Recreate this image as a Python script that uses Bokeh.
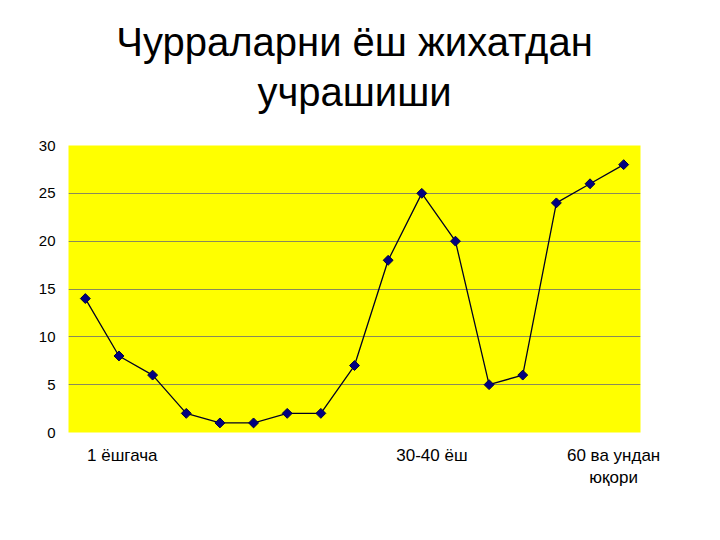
import math
from bokeh.plotting import figure
from bokeh.models import Range1d, FixedTicker, Title
from bokeh.embed import file_html
from bokeh.resources import INLINE

title_lines = ["Чурраларни ёш жихатдан", "учрашиши"]
values = [14, 8, 6, 2, 1, 1, 2, 2, 7, 18, 25, 20, 5, 6, 24, 26, 28]
positions = list(range(len(values)))
label_ticks = [1.1, 10.3, 15.7]
label_texts = ["1 ёшгача", "30-40 ёш", "60 ва ундан\nюқори"]
y_ticks = [0, 5, 10, 15, 20, 25, 30]

p = figure(width=704, height=524, output_backend="svg", toolbar_location=None,
           x_range=Range1d(-0.5, len(values) - 0.5), y_range=Range1d(0, 30),
           min_border_left=68, min_border_right=64, min_border_top=145, min_border_bottom=92)

# spacer between frame and title lines
p.add_layout(Title(text=" ", text_font_size="16px", standoff=11), "above")
for line in [title_lines[1], title_lines[0]]:
    t = Title(text=line, align="center", text_font="Liberation Sans",
              text_font_size="40px", text_font_style="normal",
              text_color="#000000", standoff=4)
    p.add_layout(t, "above")

p.background_fill_color = "#ffff00"
p.border_fill_color = "#ffffff"
p.outline_line_color = None

p.xgrid.grid_line_color = None
p.ygrid.grid_line_color = "#8a8a5a"
p.ygrid.grid_line_width = 1
p.ygrid.ticker = FixedTicker(ticks=[5, 10, 15, 20, 25])

p.yaxis.ticker = FixedTicker(ticks=y_ticks)
p.yaxis.axis_line_color = None
p.yaxis.major_tick_line_color = None
p.yaxis.minor_tick_line_color = None
p.yaxis.major_tick_out = 0
p.yaxis.major_tick_in = 0
p.yaxis.major_label_text_font = "Liberation Sans"
p.yaxis.major_label_text_font_size = "15px"
p.yaxis.major_label_text_color = "#000000"
p.yaxis.major_label_standoff = 13

p.xaxis.ticker = FixedTicker(ticks=label_ticks)
p.xaxis.major_label_overrides = {t: s for t, s in zip(label_ticks, label_texts)}
p.xaxis.axis_line_color = None
p.xaxis.major_tick_line_color = None
p.xaxis.minor_tick_line_color = None
p.xaxis.major_tick_out = 0
p.xaxis.major_tick_in = 0
p.xaxis.major_label_text_font = "Liberation Sans"
p.xaxis.major_label_text_font_size = "17px"
p.xaxis.major_label_text_color = "#000000"
p.xaxis.major_label_standoff = 13

p.line(positions, values, line_color="#000022", line_width=1.3)
p.scatter(positions, values, marker="square", size=7, angle=math.pi / 4,
          fill_color="#000080", line_color="#000040")

open("out.html", "w").write(file_html(p, INLINE))
